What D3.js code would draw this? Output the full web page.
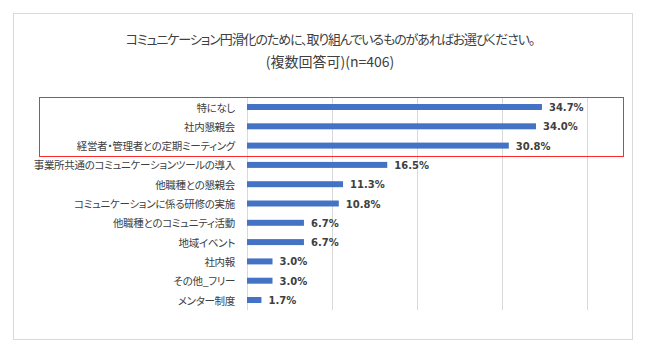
<!DOCTYPE html>
<html><head><meta charset="utf-8">
<script src="https://cdn.jsdelivr.net/npm/d3@7"></script>
<style>
html,body{margin:0;padding:0;background:#fff;}
svg{display:block;}
.jp{font-family:"Noto Sans CJK JP","Noto Sans",sans-serif;font-feature-settings:"palt";}
</style></head>
<body>
<svg id="chart" width="650" height="353"></svg>
<script>
const titleLines = ["コミュニケーション円滑化のために、取り組んでいるものがあればお選びください。", "(複数回答可)(n=406)"];
const categories = ["特になし","社内懇親会","経営者・管理者との定期ミーティング","事業所共通のコミュニケーションツールの導入","他職種との懇親会","コミュニケーションに係る研修の実施","他職種とのコミュニティ活動","地域イベント","社内報","その他_フリー","メンター制度"];
const values = [34.7, 34.0, 30.8, 16.5, 11.3, 10.8, 6.7, 6.7, 3.0, 3.0, 1.7];
const xTicks = [0, 10, 20, 30, 40];
const highlighted = ["特になし","社内懇親会","経営者・管理者との定期ミーティング"];

const svg = d3.select("#chart");
svg.append("rect").attr("x", 13.5).attr("y", 13.5).attr("width", 619).attr("height", 326)
  .attr("fill", "#fff").attr("stroke", "#d9d9d9").attr("stroke-width", 1);

const x = d3.scaleLinear().domain([0, 40]).range([247, 587]);
const y = d3.scaleBand().domain(categories).range([97.35, 309.65]).paddingInner(0.69).paddingOuter(0.345);

// title
const titleStyle = [{size: 13, ls: -1.1}, {size: 14, ls: 0}];
svg.append("g").selectAll("text").data(titleLines).join("text")
  .attr("class", "jp")
  .attr("x", 330).attr("y", (d, i) => 38 + i * 23)
  .attr("text-anchor", "middle").attr("dominant-baseline", "central")
  .attr("font-size", (d, i) => titleStyle[i].size)
  .attr("letter-spacing", (d, i) => titleStyle[i].ls)
  .attr("fill", "#404040")
  .text(d => d);

// gridlines
svg.append("g").selectAll("line").data(xTicks).join("line")
  .attr("x1", d => Math.round(x(d)) + 0.5).attr("x2", d => Math.round(x(d)) + 0.5)
  .attr("y1", 97).attr("y2", 310)
  .attr("stroke", "#d9d9d9").attr("stroke-width", 1);

// bars
const rows = categories.map((c, i) => ({c, v: values[i]}));
svg.append("g").selectAll("rect").data(rows).join("rect")
  .attr("x", x(0)).attr("y", d => y(d.c))
  .attr("width", d => x(d.v) - x(0)).attr("height", y.bandwidth())
  .attr("fill", "#4472c4");

// category labels
svg.append("g").selectAll("text").data(rows).join("text")
  .attr("class", "jp")
  .attr("x", 235).attr("y", d => y(d.c) + y.bandwidth() / 2)
  .attr("text-anchor", "end").attr("dominant-baseline", "central")
  .attr("font-size", 10.5).attr("letter-spacing", -0.3).attr("fill", "#404040")
  .text(d => d.c);

// value labels
svg.append("g").selectAll("text").data(rows).join("text")
  .attr("x", d => x(d.v) + 7).attr("y", d => y(d.c) + y.bandwidth() / 2 + 0.5)
  .attr("dominant-baseline", "central")
  .attr("font-family", "DejaVu Sans").attr("font-weight", "bold")
  .attr("font-size", 10).attr("fill", "#404040")
  .text(d => d.v.toFixed(1) + "%");

// highlight box
const hTop = y(highlighted[0]) - y.step() * y.paddingInner() / 2;
const hBot = y(highlighted[highlighted.length - 1]) + y.bandwidth() + y.step() * y.paddingInner() / 2 + 1.5;
svg.append("rect").attr("x", 39.5).attr("y", Math.round(hTop) + 0.5)
  .attr("width", 584).attr("height", Math.round(hBot - hTop))
  .attr("fill", "none").attr("stroke", "#ff2a2a").attr("stroke-width", 1);
</script>
</body></html>
